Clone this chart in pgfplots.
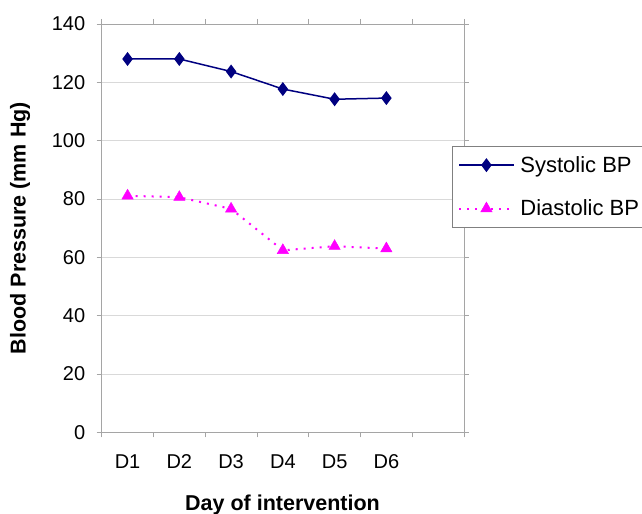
\documentclass[border=0pt]{standalone}
\usepackage{fontspec}
\setmainfont{Liberation Sans}
\usepackage{pgfplots}
\pgfplotsset{compat=1.18}
\definecolor{sysblue}{RGB}{0,0,128}
\definecolor{diamag}{RGB}{255,0,255}
\definecolor{gridc}{RGB}{217,217,217}
\definecolor{axc}{RGB}{165,165,165}
\begin{document}
\begin{tikzpicture}
\path[use as bounding box] (0,0) rectangle (642bp,514bp);
\begin{axis}[
  at={(101.7bp,81.7bp)}, anchor=south west,
  scale only axis, width=362.3bp, height=408.3bp,
  xmin=0, xmax=7, ymin=0, ymax=140,
  xtick={0.5,1.5,2.5,3.5,4.5,5.5},
  xticklabels={D1,D2,D3,D4,D5,D6},
  minor xtick={0,1,2,3,4,5,6,7},
  ytick={0,20,40,60,80,100,120,140},
  major x tick style={draw=none},
  minor x tick style={draw=axc, line width=0.8bp},
  y tick style={draw=axc, line width=0.8bp},
  tick align=outside,
  major tick length=5bp, minor tick length=5bp,
  ymajorgrids, grid style={draw=gridc, line width=0.8bp},
  axis line style={draw=axc, line width=0.8bp},
  /pgf/number format/assume math mode=true,
  tick label style={font=\fontsize{20bp}{24bp}\selectfont},
  xticklabel style={yshift=-14bp},
  yticklabel style={xshift=-8bp},
  xlabel={Day of intervention},
  ylabel={Blood Pressure (mm Hg)},
  label style={font=\fontsize{21.5bp}{25bp}\selectfont\bfseries},
  xlabel style={at={(axis description cs:0.499,-0.178)}, anchor=center},
  ylabel style={at={(axis description cs:-0.2255,0.5)}, anchor=center},
  legend style={at={(axis description cs:0.967,0.701)}, anchor=north west,
    draw=gray, line width=0.8bp, fill=white,
    font=\fontsize{22bp}{26bp}\selectfont,
    inner xsep=6bp, inner ysep=8bp,
    row sep=22bp,
    /tikz/every odd column/.append style={column sep=3bp}},
  legend cell align=left,
  legend image code/.code={
    \draw[mark repeat=2,mark phase=2] plot coordinates {(0bp,0bp)(27bp,0bp)(55bp,0bp)};
  },
]
\addplot[color=sysblue, line width=1.5bp, mark=diamond*, mark size=5.8bp,
  mark options={solid, fill=sysblue}]
  coordinates {(0.5,128.0) (1.5,128.0) (2.5,123.7) (3.5,117.7) (4.5,114.2) (5.5,114.6)};
\addlegendentry{Systolic BP}
\addplot[color=diamag, line width=2bp, dash pattern=on 2bp off 6bp, mark=triangle*, mark size=6.5bp,
  mark options={solid, fill=diamag, line width=0.5bp}]
  coordinates {(0.5,81.1) (1.5,80.6) (2.5,76.6) (3.5,62.4) (4.5,63.8) (5.5,63.0)};
\addlegendentry{Diastolic BP}
\end{axis}
\end{tikzpicture}
\end{document}
